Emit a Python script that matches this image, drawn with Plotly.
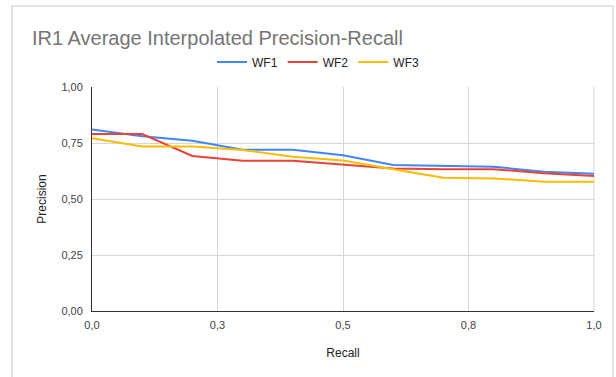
import plotly.graph_objects as go

recall = [0.0, 0.1, 0.2, 0.3, 0.4, 0.5, 0.6, 0.7, 0.8, 0.9, 1.0]
wf1 = [0.81, 0.78, 0.76, 0.72, 0.72, 0.695, 0.652, 0.647, 0.644, 0.622, 0.613]
wf2 = [0.79, 0.79, 0.692, 0.671, 0.671, 0.652, 0.636, 0.633, 0.633, 0.615, 0.603]
wf3 = [0.771, 0.734, 0.734, 0.719, 0.689, 0.672, 0.633, 0.595, 0.592, 0.577, 0.577]

series = [("WF1", wf1, "#4285F4"), ("WF2", wf2, "#EA4335"), ("WF3", wf3, "#FBBC04")]

x_tickvals = [0, 0.25, 0.5, 0.75, 1.0]
x_ticktext = ["0,0", "0,3", "0,5", "0,8", "1,0"]
y_tickvals = [0, 0.25, 0.5, 0.75, 1.0]
y_ticktext = ["0,00", "0,25", "0,50", "0,75", "1,00"]

fig = go.Figure()
for name, vals, color in series:
    fig.add_trace(go.Scatter(x=recall, y=vals, mode="lines", name=name,
                             line=dict(color=color, width=2)))

L, R, T, B = 92, 22, 87, 66
pw, ph = 616 - L - R, 377 - T - B

fig.update_layout(
    width=616, height=377,
    margin=dict(l=L, r=R, t=T, b=B, autoexpand=False),
    paper_bgcolor="white", plot_bgcolor="white",
    font=dict(family="Liberation Sans, Arial, sans-serif", size=11, color="#222222"),
    title=dict(text="IR1 Average Interpolated Precision-Recall",
               x=32 / 616, xanchor="left", xref="container",
               y=1 - 38 / 377, yanchor="middle", yref="container",
               font=dict(size=20, color="#757575")),
    legend=dict(orientation="h", x=318 / 616, xref="container", xanchor="center",
                y=1 - 62 / 377, yref="container", yanchor="middle",
                font=dict(size=12, color="#222222"), itemwidth=30,
                bgcolor="rgba(0,0,0,0)"),
    showlegend=True,
)

fig.update_xaxes(range=[0, 1], tickvals=x_tickvals, ticktext=x_ticktext,
                 showgrid=True, gridcolor="#d6d6d6", gridwidth=1,
                 showline=True, linecolor="#333333", linewidth=1,
                 zeroline=False, ticks="", ticklabelstandoff=4,
                 tickfont=dict(size=11, color="#444444"),
                 title=dict(text="Recall", font=dict(size=12, color="#222222"), standoff=18))
fig.update_yaxes(range=[0, 1], tickvals=y_tickvals, ticktext=y_ticktext,
                 showgrid=True, gridcolor="#d6d6d6", gridwidth=1,
                 showline=True, linecolor="#333333", linewidth=1,
                 zeroline=False, ticks="", ticklabelstandoff=6,
                 tickfont=dict(size=11, color="#444444"),
                 title=dict(text="Precision", font=dict(size=12, color="#222222"), standoff=12))

# light right grid edge
fig.add_shape(type="line", xref="paper", yref="paper", x0=1, x1=1, y0=0, y1=1,
              line=dict(color="#d6d6d6", width=1), layer="below")

# outer frame of the chart
fig.add_shape(type="rect", xref="paper", yref="paper",
              x0=(12 - L) / pw, x1=(613 - L) / pw,
              y0=(377 - B - 390) / ph, y1=(377 - B - 6) / ph,
              line=dict(color="#c8c8c8", width=1), fillcolor="rgba(0,0,0,0)")

fig.write_html("out.html")
